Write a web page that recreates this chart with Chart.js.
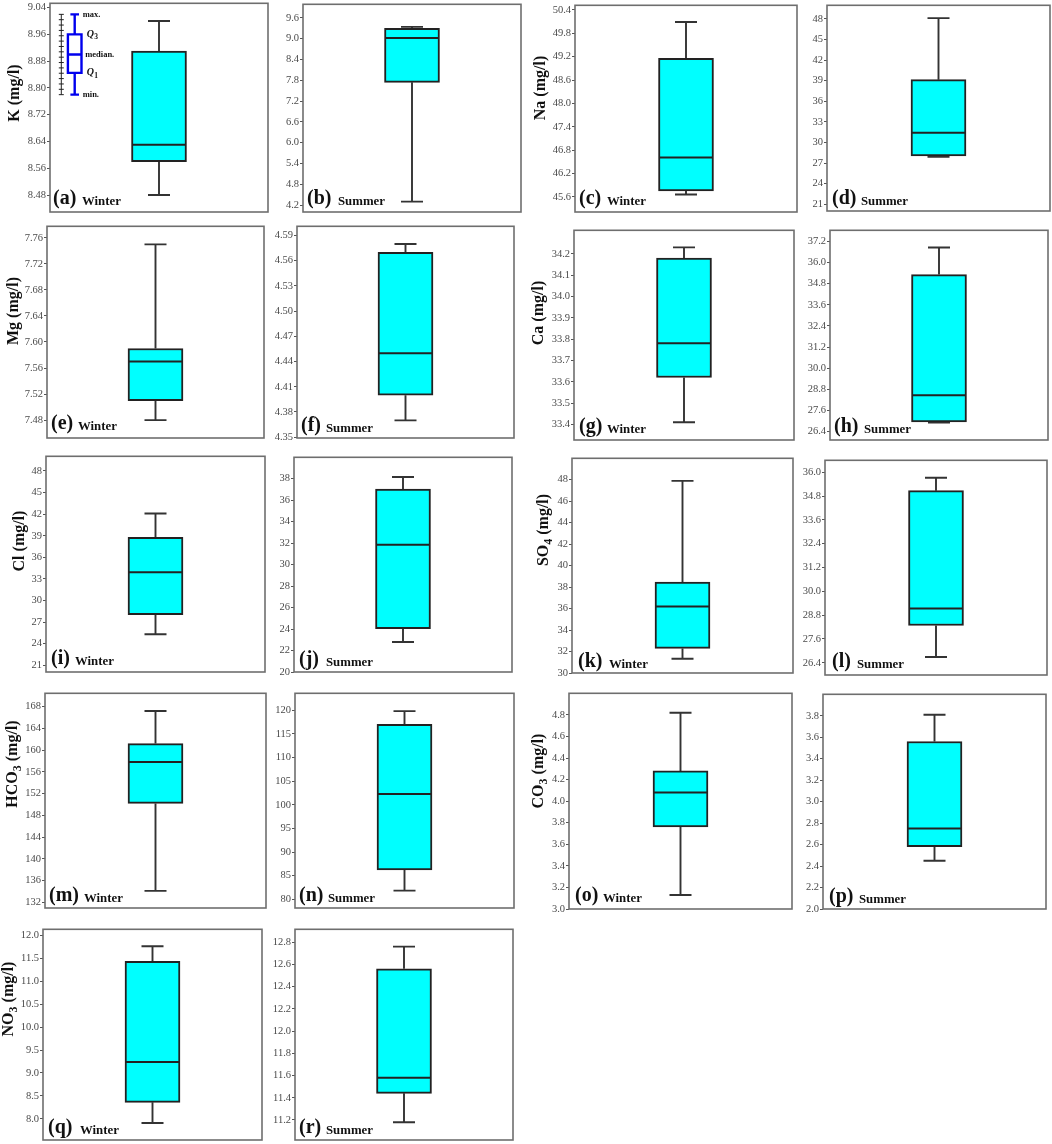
<!DOCTYPE html>
<html>
<head>
<meta charset="utf-8">
<title>Box plots</title>
<script src="https://cdn.jsdelivr.net/npm/chart.js@4"></script>
<style>
  html, body { margin: 0; padding: 0; background: #fff; overflow: hidden; width: 1052px; height: 1144px; }
  #page { position: relative; width: 1052px; height: 1144px; overflow: hidden; }
  #page div { position: absolute; }
</style>
</head>
<body>
<div id="page"></div>
<script>
// Panel letters, one per chart
const panelIds = ['a','b','c','d','e','f','g','h','i','j','k','l','m','n','o','p','q','r'];
const seasons = ['Winter','Summer','Winter','Summer','Winter','Summer','Winter','Summer','Winter',
  'Summer','Winter','Summer','Winter','Summer','Winter','Summer','Winter','Summer'];

// Y axis titles, [text, subscript, rest]. Only winter panels have one
const axisTitles = {
  a: ['K', '', ' (mg/l)'], c: ['Na', '', ' (mg/l)'], e: ['Mg', '', ' (mg/l)'],
  g: ['Ca', '', ' (mg/l)'], i: ['Cl', '', ' (mg/l)'], k: ['SO', '4', ' (mg/l)'],
  m: ['HCO', '3', ' (mg/l)'], o: ['CO', '3', ' (mg/l)'], q: ['NO', '3', ' (mg/l)']
};

// Values
const whiskerLow  = [8.48, 4.30, 45.66, 27.9, 7.48, 4.37, 33.41, 26.9, 25.32, 22.8, 31.33, 26.69, 134.1, 81.85, 3.13, 2.45, 7.91, 11.18];
const quartile1   = [8.58, 7.74, 45.75, 28.03, 7.51, 4.40, 33.62, 26.94, 28.04, 24.03, 32.29, 28.28, 150.2, 86.2, 3.76, 2.58, 8.36, 11.44];
const medians     = [8.63, 9.02, 46.61, 31.4, 7.57, 4.45, 33.78, 28.45, 33.93, 31.85, 36.2, 29.13, 157.8, 102.3, 4.08, 2.75, 9.24, 11.58];
const quartile3   = [8.91, 9.30, 49.16, 39.14, 7.59, 4.57, 34.18, 35.32, 38.77, 37.04, 38.45, 35.07, 161.2, 117.0, 4.28, 3.56, 11.43, 12.56];
const whiskerHigh = [9.00, 9.34, 50.09, 48.1, 7.75, 4.58, 34.23, 36.86, 42.09, 38.15, 47.88, 35.72, 167.2, 119.8, 4.82, 3.81, 11.76, 12.76];

// Axis ranges
const axisMin = [8.4294, 4.0, 45.21, 20.03, 7.4525, 4.349, 33.327, 25.91, 20.07, 20, 30, 25.785, 130.95, 78.17, 3.0, 2.0, 7.54, 11.02];
const axisMax = [9.053, 9.99, 50.52, 49.96, 7.7777, 4.601, 34.31, 37.84, 50.04, 39.99, 49.98, 36.6, 170.46, 123.58, 5.0, 4.0, 12.13, 12.916];

// Tick labels
const tickLabels = [
  ['8.48','8.56','8.64','8.72','8.80','8.88','8.96','9.04'],
  ['4.2','4.8','5.4','6.0','6.6','7.2','7.8','8.4','9.0','9.6'],
  ['45.6','46.2','46.8','47.4','48.0','48.6','49.2','49.8','50.4'],
  ['21','24','27','30','33','36','39','42','45','48'],
  ['7.48','7.52','7.56','7.60','7.64','7.68','7.72','7.76'],
  ['4.35','4.38','4.41','4.44','4.47','4.50','4.53','4.56','4.59'],
  ['33.4','33.5','33.6','33.7','33.8','33.9','34.0','34.1','34.2'],
  ['26.4','27.6','28.8','30.0','31.2','32.4','33.6','34.8','36.0','37.2'],
  ['21','24','27','30','33','36','39','42','45','48'],
  ['20','22','24','26','28','30','32','34','36','38'],
  ['30','32','34','36','38','40','42','44','46','48'],
  ['26.4','27.6','28.8','30.0','31.2','32.4','33.6','34.8','36.0'],
  ['132','136','140','144','148','152','156','160','164','168'],
  ['80','85','90','95','100','105','110','115','120'],
  ['3.0','3.2','3.4','3.6','3.8','4.0','4.2','4.4','4.6','4.8'],
  ['2.0','2.2','2.4','2.6','2.8','3.0','3.2','3.4','3.6','3.8'],
  ['8.0','8.5','9.0','9.5','10.0','10.5','11.0','11.5','12.0'],
  ['11.2','11.4','11.6','11.8','12.0','12.2','12.4','12.6','12.8']
];

// Explanation key in panel (a), in that panel's own units
const keyValues = [8.78, 8.845, 8.90, 8.96, 9.02]; // min, Q1, median, Q3, max
const keyRuler = [8.78, 8.796, 8.812, 8.828, 8.844, 8.86, 8.876, 8.892, 8.908, 8.924, 8.94, 8.956, 8.972, 8.988, 9.004, 9.02];
const keyNames = ['min.', 'Q1', 'median.', 'Q3', 'max.'];

// Page layout: frame [left, top, right, bottom]
const frames = [
  [50,2,268,212],[303,3,521,212],[575,4,797,212],[827,4,1050,211],
  [47,225,264,438],[297,225,514,438],[574,229,794,440],[830,229,1048,440],
  [46,455,265,672],[294,456,512,672],[572,457,793,673],[825,459,1047,675],
  [45,692,266,908],[295,692,514,908],[569,692,792,909],[823,693,1046,909],
  [43,928,262,1140],[295,928,513,1140]
];
// Panel tag: [x of letter, x of season, baseline]
const tagSpots = [
  [53,82,204],[307,338,204],[579,607,204],[832,861,204],
  [51,78,429],[301,326,431],[579,607,432],[834,864,432],
  [51,75,664],[299,326,665],[578,609,667],[832,857,667],
  [49,84,901],[299,328,901],[575,603,901],[829,859,902],
  [48,80,1133],[299,326,1133]
];
// Axis title centre [x, y]
const titleSpots = {
  a: [14,93], c: [540,88], e: [13,311], g: [538,313], i: [19,541],
  k: [543,530], m: [12,764], o: [538,771], q: [8,999]
};

const leftMargin = 50, topMargin = 6, bottomMargin = 8, rightMargin = 4;
const SERIF = '"Liberation Serif", serif';

function drawAxisTitle(ctx, id, x, y) {
  const t = axisTitles[id];
  if (!t) return;
  const big = 'bold 16px ' + SERIF, small = 'bold 12px ' + SERIF;
  ctx.save();
  ctx.fillStyle = '#111';
  ctx.textBaseline = 'alphabetic';
  ctx.textAlign = 'left';
  ctx.font = big;
  const w0 = ctx.measureText(t[0]).width, w2 = ctx.measureText(t[2]).width;
  ctx.font = small;
  const w1 = t[1] ? ctx.measureText(t[1]).width : 0;
  ctx.translate(x + 5, y);
  ctx.rotate(-Math.PI / 2);
  let pos = -(w0 + w1 + w2) / 2;
  ctx.font = big;
  ctx.fillText(t[0], pos, 0);
  pos += w0;
  if (t[1]) {
    ctx.font = small;
    ctx.fillText(t[1], pos, 4);
    pos += w1;
  }
  ctx.font = big;
  ctx.fillText(t[2], pos, 0);
  ctx.restore();
}

function drawKey(ctx, yScale, offsetX) {
  const x = 74.7 - offsetX, rx = 61.3 - offsetX;
  const py = keyValues.map(v => yScale.getPixelForValue(v));
  ctx.save();
  // ruler
  ctx.strokeStyle = '#222';
  ctx.lineWidth = 1;
  ctx.beginPath();
  ctx.moveTo(rx, yScale.getPixelForValue(keyRuler[0]));
  ctx.lineTo(rx, yScale.getPixelForValue(keyRuler[keyRuler.length - 1]));
  keyRuler.forEach(v => {
    const p = yScale.getPixelForValue(v);
    ctx.moveTo(rx - 2.5, p);
    ctx.lineTo(rx + 2.5, p);
  });
  ctx.stroke();
  // blue box
  ctx.strokeStyle = '#0000ee';
  ctx.lineWidth = 2.4;
  ctx.beginPath();
  ctx.moveTo(x, py[0]); ctx.lineTo(x, py[1]);
  ctx.moveTo(x, py[3]); ctx.lineTo(x, py[4]);
  ctx.moveTo(x - 4.3, py[0]); ctx.lineTo(x + 4.3, py[0]);
  ctx.moveTo(x - 4.3, py[4]); ctx.lineTo(x + 4.3, py[4]);
  ctx.rect(x - 6.8, py[3], 13.6, py[1] - py[3]);
  ctx.moveTo(x - 6.8, py[2]); ctx.lineTo(x + 6.8, py[2]);
  ctx.stroke();
  // labels
  ctx.fillStyle = '#111';
  ctx.textBaseline = 'middle';
  ctx.textAlign = 'left';
  keyNames.forEach((name, i) => {
    if (name[0] === 'Q') {
      ctx.font = 'italic bold 10px ' + SERIF;
      ctx.fillText('Q', x + 12, py[i]);
      ctx.font = 'bold 7.5px ' + SERIF;
      ctx.fillText(name[1], x + 19.5, py[i] + 3);
    } else {
      ctx.font = 'bold 8.5px ' + SERIF;
      ctx.fillText(name, x + (name[1] === 'e' ? 10.5 : 8), py[i]);
    }
  });
  ctx.restore();
}

// Whiskers go under the box, median, frame and texts go on top
const boxPlugin = {
  id: 'boxPlugin',
  beforeDatasetsDraw(chart) {
    const i = chart.options.plugins.boxPlugin.index;
    const ctx = chart.ctx, y = chart.scales.y, x = chart.scales.x.getPixelForValue(0);
    const capHalf = 11;
    ctx.save();
    ctx.strokeStyle = '#333';
    ctx.lineWidth = 1.9;
    ctx.beginPath();
    ctx.moveTo(x, y.getPixelForValue(whiskerLow[i]));
    ctx.lineTo(x, y.getPixelForValue(quartile1[i]));
    ctx.moveTo(x, y.getPixelForValue(quartile3[i]));
    ctx.lineTo(x, y.getPixelForValue(whiskerHigh[i]));
    ctx.moveTo(x - capHalf, y.getPixelForValue(whiskerLow[i]));
    ctx.lineTo(x + capHalf, y.getPixelForValue(whiskerLow[i]));
    ctx.moveTo(x - capHalf, y.getPixelForValue(whiskerHigh[i]));
    ctx.lineTo(x + capHalf, y.getPixelForValue(whiskerHigh[i]));
    ctx.stroke();
    ctx.restore();
  },
  afterDatasetsDraw(chart) {
    const i = chart.options.plugins.boxPlugin.index;
    const id = panelIds[i], ctx = chart.ctx, area = chart.chartArea, y = chart.scales.y;
    const x = chart.scales.x.getPixelForValue(0);
    const offsetX = frames[i][0] - leftMargin, offsetY = frames[i][1] - topMargin;
    ctx.save();
    // median
    ctx.strokeStyle = '#222';
    ctx.lineWidth = 2;
    ctx.beginPath();
    ctx.moveTo(x - 27, y.getPixelForValue(medians[i]));
    ctx.lineTo(x + 27, y.getPixelForValue(medians[i]));
    ctx.stroke();
    // frame
    ctx.strokeStyle = '#6e6e6e';
    ctx.lineWidth = 1.6;
    ctx.strokeRect(area.left, area.top, area.right - area.left, area.bottom - area.top);
    // panel tag and season
    const spot = tagSpots[i];
    ctx.fillStyle = '#111';
    ctx.textAlign = 'left';
    ctx.textBaseline = 'alphabetic';
    ctx.font = 'bold 20px ' + SERIF;
    ctx.fillText('(' + id + ')', spot[0] - offsetX, spot[2] - offsetY);
    ctx.font = 'bold 12.8px ' + SERIF;
    ctx.fillText(seasons[i], spot[1] - offsetX, spot[2] + 1 - offsetY);
    ctx.restore();
    if (titleSpots[id]) drawAxisTitle(ctx, id, titleSpots[id][0] - offsetX, titleSpots[id][1] - offsetY);
    if (id === 'a') drawKey(ctx, y, offsetX);
  }
};

panelIds.forEach((id, i) => {
  const f = frames[i];
  const holder = document.createElement('div');
  holder.style.left = (f[0] - leftMargin) + 'px';
  holder.style.top = (f[1] - topMargin) + 'px';
  holder.style.width = (f[2] - f[0] + leftMargin + rightMargin) + 'px';
  holder.style.height = (f[3] - f[1] + topMargin + bottomMargin) + 'px';
  const canvas = document.createElement('canvas');
  holder.appendChild(canvas);
  document.getElementById('page').appendChild(holder);

  new Chart(canvas.getContext('2d'), {
    type: 'bar',
    data: {
      labels: [seasons[i]],
      datasets: [{
        data: [[quartile1[i], quartile3[i]]],
        backgroundColor: '#00ffff',
        borderColor: '#222',
        borderWidth: 2,
        borderSkipped: false,
        barThickness: 55
      }]
    },
    options: {
      responsive: true,
      maintainAspectRatio: false,
      animation: false,
      devicePixelRatio: 1,
      layout: { padding: { top: topMargin, bottom: bottomMargin, right: rightMargin, left: 0 } },
      plugins: {
        legend: { display: false },
        tooltip: { enabled: false },
        boxPlugin: { index: i }
      },
      scales: {
        x: { display: false },
        y: {
          min: axisMin[i],
          max: axisMax[i],
          afterFit(scale) { scale.width = leftMargin; },
          afterBuildTicks(scale) {
            scale.ticks = tickLabels[i].map(s => ({ value: Number(s) }));
          },
          border: { display: false },
          grid: { drawOnChartArea: false, drawTicks: true, tickLength: 3, color: '#555', lineWidth: 1 },
          ticks: {
            autoSkip: false,
            padding: 1,
            color: '#4a4a4a',
            font: { family: 'Liberation Serif', size: 10.5 },
            callback: (v, idx) => tickLabels[i][idx]
          }
        }
      }
    },
    plugins: [boxPlugin]
  });
});
</script>
</body>
</html>
